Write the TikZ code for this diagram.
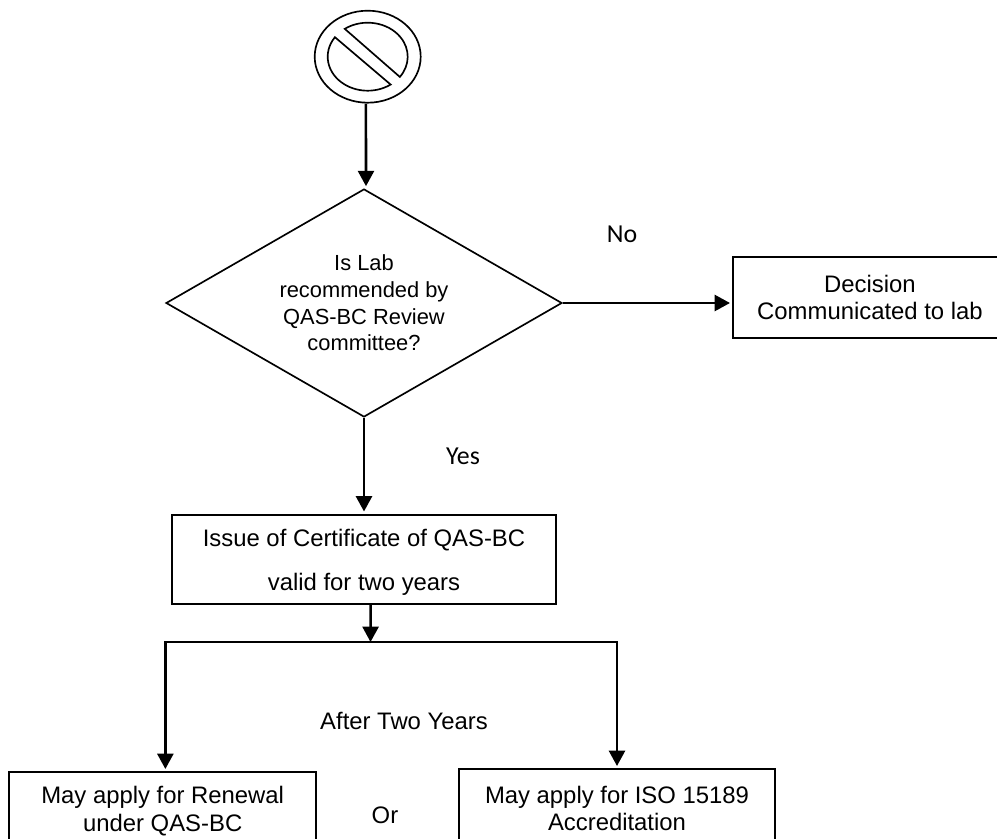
\documentclass[tikz,border=0pt]{standalone}
\usepackage{fontspec}
\setmainfont{Liberation Sans}
\newfontfamily\carlitofont{Carlito}
\usetikzlibrary{arrows.meta,shapes.geometric}
\tikzset{every node/.append style={inner sep=0pt}}
\tikzset{flow/.style={line width=1.9pt, shorten >=1.5pt, -{Triangle[length=11.5pt,width=12pt]}}}
\tikzset{procbox/.style={draw, line width=1.5pt, align=center, font=\fontsize{17.9}{20.4}\selectfont}}
\tikzset{edgelabel/.style={font=\carlitofont\fontsize{19.4}{22}\selectfont}}

\begin{document}
\begin{tikzpicture}[x=.75pt, y=-.75pt]
  \useasboundingbox (0,0) rectangle (997,839);
  \node[draw, line width=1.25pt, ellipse, minimum width=79.5pt, minimum height=69pt] (stop) at (367.7,56.7) {};
  \begin{scope}[shift={(stop.center)}, x=1pt, y=1pt, line width=1.25pt]
    \draw (125:30pt and 25.5pt) arc[start angle=125, end angle=-36.5, x radius=30pt, y radius=25.5pt] -- cycle;
    \draw (145:30pt and 25.5pt) arc[start angle=145, end angle=305, x radius=30pt, y radius=25.5pt] -- cycle;
  \end{scope}
  \node[draw, line width=1.25pt, diamond, aspect=1.74, minimum width=297pt, minimum height=171pt, align=center,
    font=\fontsize{16.4}{20}\selectfont] (decide) at (364,303) {Is Lab\\recommended by\\QAS-BC Review\\committee?};
  \node[procbox, minimum width=205.5pt, minimum height=60.4pt] (report) at (870,297.5) {Decision\\Communicated to lab};
  \node[procbox, minimum width=288pt, minimum height=66.75pt, font=\fontsize{17.9}{32.5}\selectfont] (issue) at (364,559) {\rule{0pt}{18pt}Issue of Certificate of QAS-BC\\valid for two years};
  \node[procbox, minimum width=230pt, minimum height=58.5pt] (renewal) at (162.7,811) {May apply for Renewal\\under QAS-BC};
  \node[procbox, minimum width=237pt, minimum height=59.25pt] (iso) at (617,808.5) {May apply for ISO 15189\\Accreditation};
  \node[edgelabel] (nolabel) at (622,234) {No};
  \node[edgelabel] (yeslabel) at (463,456) {Yes};
  \node[procbox, draw=none] (afterlabel) at (404,721) {After Two Years};
  \node[procbox, draw=none] (orlabel) at (385,815) {Or};
  \coordinate (bus) at (370.5,642);
  \draw[flow] ([xshift=-1.3pt]stop.south) -- ([xshift=1.5pt]decide.north);
  \draw[flow] (decide.east) -- (decide.east -| report.west);
  \draw[flow] (decide.south) -- (issue.north);
  \draw[flow, shorten >=0pt] ([xshift=5pt]issue.south) -- (bus);
  \draw[flow] (bus) -| ([xshift=2pt]renewal.north);
  \draw[flow] (bus) -| (iso.north);
\end{tikzpicture}
\end{document}
